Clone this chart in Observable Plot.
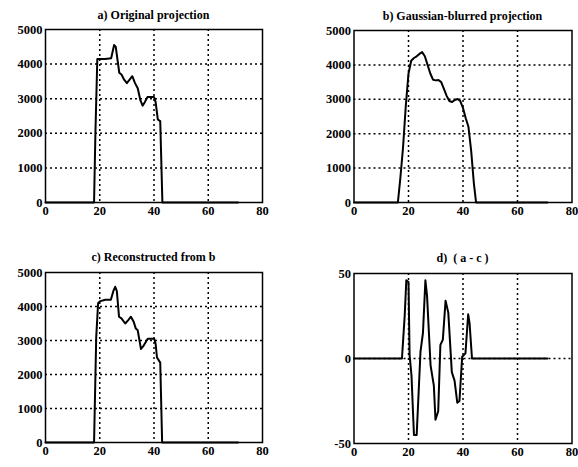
<!DOCTYPE html>
<html><head><meta charset="utf-8">
<script src="https://cdn.jsdelivr.net/npm/d3@7"></script>
<script src="https://cdn.jsdelivr.net/npm/@observablehq/plot@0.6"></script>
<style>
body{margin:0;background:#fff;}
#wrap{position:relative;width:578px;height:467px;font-family:"Liberation Serif","Times New Roman",serif;}
.panel{position:absolute;}
.title{position:absolute;font-weight:bold;font-size:12px;text-align:center;white-space:pre;line-height:14px;}
</style></head><body><div id="wrap"></div>
<script>
const xTicks = [0, 20, 40, 60, 80];
const yTicksProj = [0, 1000, 2000, 3000, 4000, 5000];
const yTicksDiff = [-50, 0, 50];
const titles = ["a) Original projection", "b) Gaussian-blurred projection", "c) Reconstructed from b", "d)  ( a - c )"];

const aX = [0,17.9,18.4,19.1,20,22,24.2,25.3,25.9,27.2,28,29,30,31,32,33,34,35,35.8,36.6,37.6,40,40.6,41.4,42.3,43.1,71];
const aY = [0,0,2000,4150,4150,4150,4170,4550,4500,3750,3700,3550,3450,3550,3650,3450,3300,2950,2800,2900,3050,3050,2900,2400,2350,0,0];

const bX = [0,16.1,17,18,19,20,21,22,23,24,25,26,27,28,29,30,31,32,33,34,35,36,37,38,39,40,41,42,43,44,44.8,71];
const bY = [0,0,700,1600,2800,3750,4120,4200,4250,4320,4370,4250,4000,3750,3570,3550,3560,3500,3300,3100,2950,2920,2980,3010,2950,2750,2450,2200,1500,550,0,0];

const cX = [0,17.9,18.7,19.4,20,22,24.1,25,25.7,26.3,27.1,28,29.4,30.5,31.5,32.5,33.3,34,35.2,36.2,37.7,40.1,40.6,41.1,42.3,43,71];
const cY = [0,0,3100,4100,4150,4200,4200,4450,4580,4450,3700,3650,3500,3600,3700,3550,3350,3300,2750,2850,3050,3050,2900,2500,2350,0,0];

const dX = [0,17.6,18.6,19.2,20,20.4,21.1,22,23,24.4,25.3,26.2,26.8,28.1,29.3,29.9,30.9,31.7,32.6,33.6,34.6,35.9,36.9,37.9,38.7,39.7,40.9,41.9,42.4,43.3,71];
const dY = [0,0,25,46,45,2,-10,-45,-45,4,15,46,37,-4,-16,-36,-31,8,11,34,27,-8,-13,-26,-25,1,3,26,21,0,0];

const wrap = document.getElementById("wrap");
const font = '"Liberation Serif","Times New Roman",serif';

function panel({xs, ys, yDomain, yTicks, yGrid, left, top, height, mL, mR, mT, mB, title, titleY}) {
  const data = xs.map((x, i) => ({x, y: ys[i]}));
  const chart = Plot.plot({
    width: 289, height,
    marginLeft: mL, marginRight: mR, marginTop: mT, marginBottom: mB,
    style: {fontFamily: font, fontSize: "12.5px", fontWeight: "bold", background: "white", color: "black", overflow: "visible"},
    x: {domain: [0, 80]},
    y: {domain: yDomain},
    marks: [
      Plot.gridX([20, 40, 60], {stroke: "black", strokeOpacity: 1, strokeWidth: 1.5, strokeDasharray: "2,3"}),
      Plot.gridY(yGrid, {stroke: "black", strokeOpacity: 1, strokeWidth: 1.5, strokeDasharray: "2,3"}),
      Plot.line(data, {x: "x", y: "y", stroke: "black", strokeWidth: 2}),
      Plot.frame({stroke: "black", strokeWidth: 1.5}),
      Plot.axisX(xTicks, {tickSize: 0, tickPadding: 4, fontSize: 12.5, fontWeight: "bold", label: null, tickFormat: d => String(d)}),
      Plot.axisY(yTicks, {tickSize: 0, tickPadding: 3, fontSize: 12.5, fontWeight: "bold", label: null, tickFormat: d => String(d)})
    ]
  });
  const div = document.createElement("div");
  div.className = "panel";
  div.style.left = left + "px";
  div.style.top = top + "px";
  div.appendChild(chart);
  wrap.appendChild(div);
  const t = document.createElement("div");
  t.className = "title";
  t.textContent = title;
  const cx = left + mL + (289 - mL - mR) / 2;
  t.style.left = (cx - 150) + "px";
  t.style.width = "300px";
  t.style.top = (titleY - 7) + "px";
  wrap.appendChild(t);
}

panel({xs: aX, ys: aY, yDomain: [0, 5000], yTicks: yTicksProj, yGrid: [1000, 2000, 3000, 4000],
  left: 0, top: 0, height: 230, mL: 45, mR: 27, mT: 29, mB: 28, title: titles[0], titleY: 15});
panel({xs: bX, ys: bY, yDomain: [0, 5000], yTicks: yTicksProj, yGrid: [1000, 2000, 3000, 4000],
  left: 289, top: 0, height: 230, mL: 64.5, mR: 6.5, mT: 30, mB: 28, title: titles[1], titleY: 16});
panel({xs: cX, ys: cY, yDomain: [0, 5000], yTicks: yTicksProj, yGrid: [1000, 2000, 3000, 4000],
  left: 0, top: 230, height: 237, mL: 45, mR: 27, mT: 42, mB: 25, title: titles[2], titleY: 257});
panel({xs: dX, ys: dY, yDomain: [-50, 50], yTicks: yTicksDiff, yGrid: [0],
  left: 289, top: 230, height: 237, mL: 64.5, mR: 6.5, mT: 43, mB: 24, title: titles[3], titleY: 258});
</script>
</body></html>
